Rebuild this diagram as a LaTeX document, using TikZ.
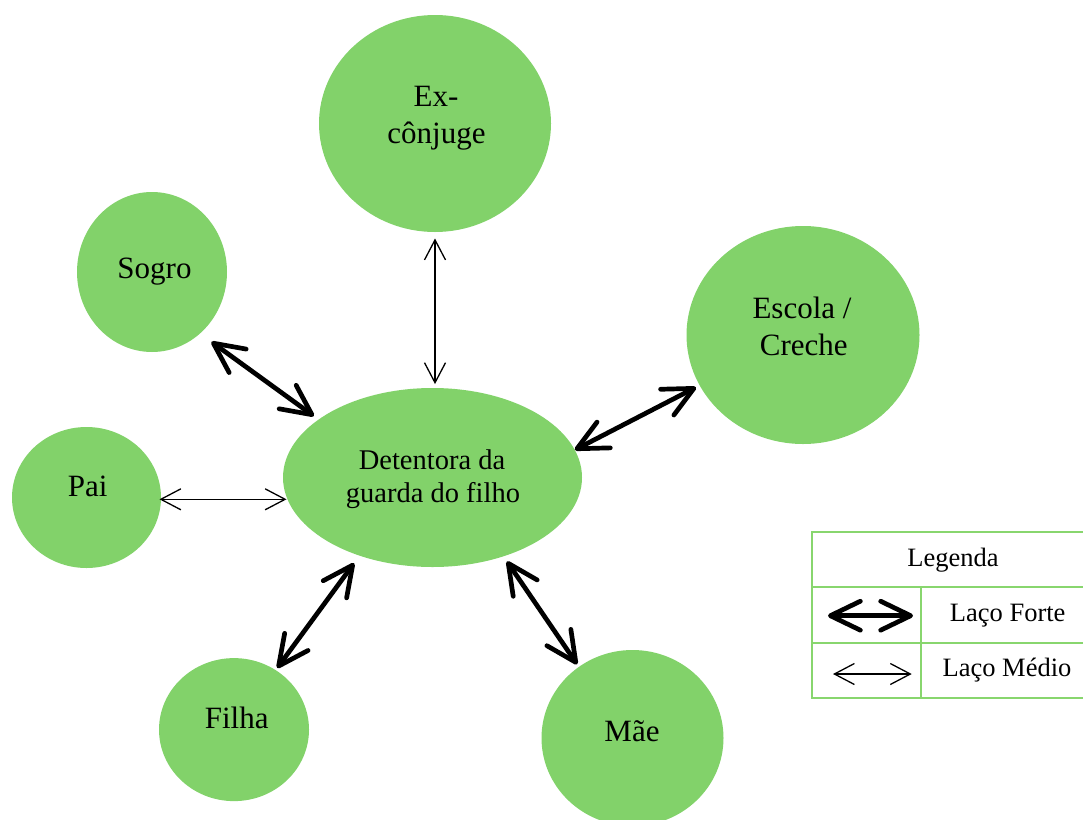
\documentclass[tikz,border=0pt]{standalone}
\usepackage{fontspec}
\setmainfont{Liberation Serif}
\usetikzlibrary{arrows.meta,shapes.geometric}
\definecolor{nodegreen}{RGB}{130,210,106}
\definecolor{legendgreen}{RGB}{136,214,110}
\begin{document}
\begin{tikzpicture}[x=1pt,y=-1pt,
  circ/.style={ellipse, fill=nodegreen, draw=none, inner sep=0pt},
  bigtxt/.style={anchor=base, inner sep=0pt, font=\fontsize{31}{37}\selectfont},
  midtxt/.style={anchor=base, inner sep=0pt, font=\fontsize{28.5}{34}\selectfont},
  legtxt/.style={anchor=base, inner sep=0pt, font=\fontsize{26.5}{32}\selectfont},
  strong/.style={line width=4.7pt, {Straight Barb[length=30pt,width=29pt,round]}-{Straight Barb[length=30pt,width=29pt,round]}},
  medium/.style={line width=1.3pt, {Straight Barb[length=20pt,width=21pt]}-{Straight Barb[length=20pt,width=21pt]}},
  legline/.style={draw=legendgreen, line width=2pt}]
\useasboundingbox (0,0) rectangle (1083,819);

% circles
\node[circ, minimum width=232pt, minimum height=217pt] (excon) at (435,123.5) {};
\node[circ, minimum width=150pt, minimum height=160pt] (sogro) at (152,272) {};
\node[circ, minimum width=233pt, minimum height=218pt] (escola) at (803,335) {};
\node[circ, minimum width=149pt, minimum height=141pt] (pai) at (86.5,497.5) {};
\node[circ, minimum width=299pt, minimum height=179pt] (det) at (432.5,477.5) {};
\node[circ, minimum width=150pt, minimum height=143pt] (filha) at (234,729.6) {};
\node[circ, minimum width=182pt, minimum height=176pt] (mae) at (632.5,738) {};

% texts
\node[bigtxt] (exconT1) at (436,106.7) {Ex-};
\node[bigtxt] (exconT2) at (436.5,143) {cônjuge};
\node[bigtxt] (sogroT) at (154.5,278.3) {Sogro};
\node[bigtxt] (escolaT1) at (802,318.3) {Escola /};
\node[bigtxt] (escolaT2) at (803.8,355) {Creche};
\node[bigtxt] (paiT) at (87.8,496.7) {Pai};
\node[midtxt] (detT1) at (432,469.3) {Detentora da};
\node[midtxt] (detT2) at (433,502.7) {guarda do filho};
\node[bigtxt] (filhaT) at (236.7,728.3) {Filha};
\node[bigtxt] (maeT) at (632,741.7) {Mãe};

% connectors
\draw[medium, shorten <=6.3pt, shorten >=3.7pt] (excon.south) -- (excon.south |- det.north);
\draw[strong, shorten <=14pt, shorten >=5.7pt] (sogro.-52) -- (det.153);
\draw[medium, shorten <=-1.7pt, shorten >=-3.7pt] ([yshift=-1.8pt]pai.east) -- ([yshift=-1.8pt]pai.east -| det.west);
\draw[strong, shorten <=4pt] (escola.206.6) -- (det.11.6);
\draw[strong, shorten <=2.5pt, shorten >=9.2pt] (filha.55.9) -- (det.227.1);
\draw[strong, shorten <=3pt, shorten >=6pt] (mae.127.5) -- (det.-48.3);

% legend
\draw[legline] (812,532) -- (1090,532);
\draw[legline] (812,587) -- (1090,587);
\draw[legline] (812,643) -- (1090,643);
\draw[legline] (812,698) -- (1090,698);
\draw[legline] (812,531) -- (812,699);
\draw[legline] (920.5,587) -- (920.5,698);
\node[legtxt] (legT) at (953,566.7) {Legenda};
\node[legtxt] (fortT) at (1007.7,621.7) {Laço Forte};
\node[legtxt] (medT) at (1007,676.7) {Laço Médio};
\coordinate (lfA) at (828,615.7);
\coordinate (lfB) at (913,615.7);
\coordinate (lmA) at (833,674);
\coordinate (lmB) at (911.7,674);
\draw[strong] (lfA) -- (lfB);
\draw[medium] (lmA) -- (lmB);
\end{tikzpicture}
\end{document}
